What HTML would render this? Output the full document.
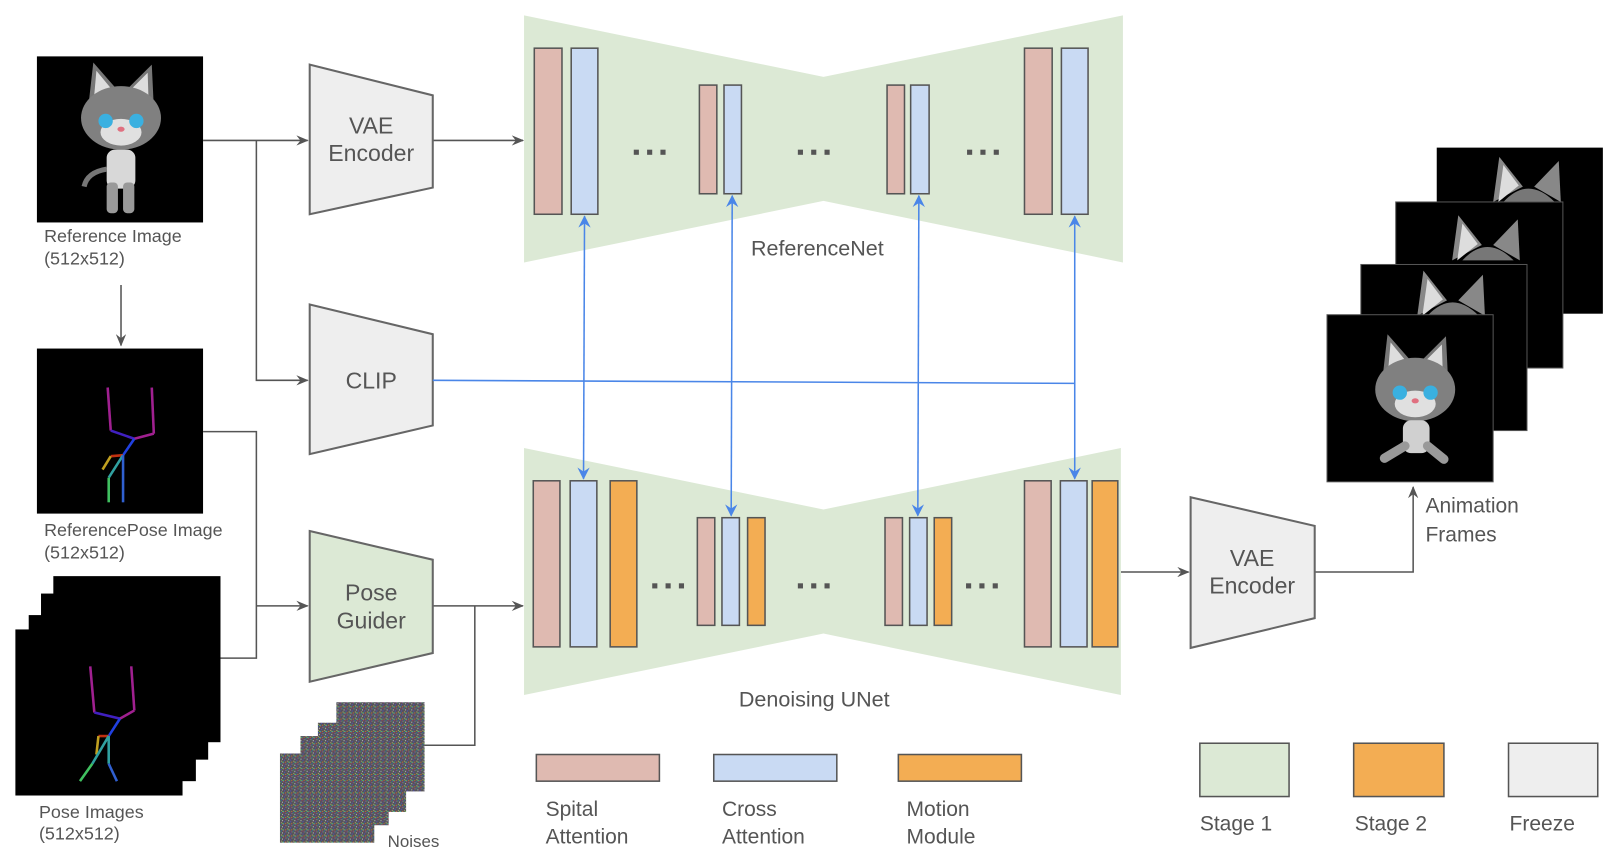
<!DOCTYPE html>
<html><head><meta charset="utf-8"><style>
html,body{margin:0;padding:0;background:#fff;}
svg{display:block;}
text{font-family:"Liberation Sans",sans-serif;fill:#555;}
</style></head><body>
<svg width="1608" height="856" viewBox="0 0 1568 835" preserveAspectRatio="none" xmlns="http://www.w3.org/2000/svg">
<defs>
<marker id="ag" markerWidth="12" markerHeight="10" refX="11" refY="5" orient="auto" markerUnits="userSpaceOnUse"><path d="M0,0 L12,5 L0,10 L4,5 z" fill="#555"/></marker>
<marker id="ab" markerWidth="12" markerHeight="12" refX="11" refY="6" orient="auto-start-reverse" markerUnits="userSpaceOnUse"><path d="M0,0 L12,6 L0,12 L4,6 z" fill="#4a86e8"/></marker>
<pattern id="nz" width="6" height="6" patternUnits="userSpaceOnUse">
<rect width="6" height="6" fill="#55525a"/>
<rect x="0" y="0" width="1" height="1" fill="#c04050"/><rect x="3" y="1" width="1" height="1" fill="#40b050"/>
<rect x="1" y="3" width="1" height="1" fill="#5050d0"/><rect x="4" y="4" width="1" height="1" fill="#b0b070"/>
<rect x="0" y="5" width="1" height="1" fill="#30a0b0"/><rect x="5" y="2" width="1" height="1" fill="#c0c0c8"/>
<rect x="2" y="1" width="1" height="1" fill="#a040a0"/><rect x="5" y="5" width="1" height="1" fill="#70c040"/>
<rect x="2" y="5" width="1" height="1" fill="#d07030"/><rect x="4" y="0" width="1" height="1" fill="#3060c0"/>
</pattern>
<g id="catface">
<path d="M-32,-10 L-27,-54 L-6,-30 Z" fill="#777"/><path d="M-27,-12 L-24,-46 L-10,-29 Z" fill="#ddd"/>
<path d="M32,-10 L30,-52 L8,-30 Z" fill="#777"/><path d="M27,-12 L26,-44 L11,-29 Z" fill="#ddd"/>
<ellipse cx="0" cy="0" rx="39" ry="31" fill="#808080"/>
<ellipse cx="0" cy="14" rx="20" ry="13" fill="#e0e0e0"/>
<circle cx="-15" cy="3" r="7" fill="#3ab0e0"/><circle cx="15" cy="3" r="7" fill="#3ab0e0"/>
<ellipse cx="0" cy="11" rx="3.5" ry="2.5" fill="#e07080"/>
</g>
</defs>

<!-- Reference image -->
<rect x="36" y="55" width="162" height="162" fill="#000"/>
<use href="#catface" transform="translate(118,115)"/>
<rect x="104" y="146" width="28" height="38" rx="8" fill="#d8d8d8"/>
<rect x="104" y="178" width="11" height="30" rx="4" fill="#999"/><rect x="120" y="178" width="11" height="30" rx="4" fill="#999"/>
<path d="M104,165 Q85,168 82,182" stroke="#777" stroke-width="5" fill="none"/>
<text x="43" y="236" font-size="17.5">Reference Image</text>
<text x="43" y="258" font-size="17.5">(512x512)</text>
<line x1="118" y1="278" x2="118" y2="337" stroke="#555" stroke-width="1.5" marker-end="url(#ag)"/>

<!-- Reference pose -->
<rect x="36" y="340" width="162" height="161" fill="#000"/>
<g stroke-width="2.5" fill="none">
<line x1="105" y1="378" x2="108" y2="420" stroke="#a02090"/>
<line x1="148" y1="378" x2="150" y2="423" stroke="#a02090"/>
<line x1="108" y1="420" x2="131" y2="428" stroke="#4020c0"/>
<line x1="131" y1="428" x2="150" y2="423" stroke="#a02090"/>
<line x1="131" y1="428" x2="120" y2="444" stroke="#2040e0"/>
<line x1="120" y1="444" x2="108" y2="445" stroke="#c03010"/>
<line x1="108" y1="445" x2="100" y2="458" stroke="#c0a020"/>
<line x1="120" y1="444" x2="106" y2="466" stroke="#30a0a0"/>
<line x1="106" y1="466" x2="106" y2="490" stroke="#40c060"/>
<line x1="120" y1="444" x2="120" y2="490" stroke="#3060d0"/>
</g>
<text x="43" y="523" font-size="17.5">ReferencePose Image</text>
<text x="43" y="545" font-size="17.5">(512x512)</text>

<!-- Pose images stack -->
<rect x="52" y="562" width="163" height="162" fill="#000"/>
<rect x="40" y="579" width="163" height="162" fill="#000"/>
<rect x="28" y="600" width="163" height="162" fill="#000"/>
<rect x="15" y="614" width="163" height="162" fill="#000"/>
<g stroke-width="2.5" fill="none">
<line x1="88" y1="650" x2="92" y2="695" stroke="#a02090"/>
<line x1="128" y1="650" x2="131" y2="693" stroke="#a02090"/>
<line x1="92" y1="695" x2="117" y2="701" stroke="#4020c0"/>
<line x1="117" y1="701" x2="131" y2="693" stroke="#a02090"/>
<line x1="117" y1="701" x2="106" y2="718" stroke="#2040e0"/>
<line x1="106" y1="718" x2="96" y2="718" stroke="#c03010"/>
<line x1="96" y1="718" x2="94" y2="736" stroke="#c0a020"/>
<line x1="106" y1="718" x2="90" y2="745" stroke="#30a0a0"/>
<line x1="90" y1="745" x2="78" y2="762" stroke="#40c060"/>
<line x1="106" y1="718" x2="106" y2="745" stroke="#30a0a0"/>
<line x1="106" y1="745" x2="114" y2="762" stroke="#3060d0"/>
</g>
<text x="38" y="798" font-size="17.5">Pose Images</text>
<text x="38" y="819" font-size="17.5">(512x512)</text>

<!-- connectors left -->
<g stroke="#555" stroke-width="1.5" fill="none">
<line x1="198" y1="137" x2="300" y2="137" marker-end="url(#ag)"/>
<polyline points="250,137 250,371 300,371" marker-end="url(#ag)"/>
<polyline points="198,421 250,421 250,642 215,642"/>
<line x1="250" y1="591" x2="300" y2="591" marker-end="url(#ag)"/>
<line x1="422" y1="137" x2="510" y2="137" marker-end="url(#ag)"/>
<line x1="422" y1="591" x2="510" y2="591" marker-end="url(#ag)"/>
<polyline points="414,727 463,727 463,591"/>
<line x1="1093" y1="558" x2="1159" y2="558" marker-end="url(#ag)"/>
<polyline points="1282,558 1378,558 1378,475" marker-end="url(#ag)"/>
</g>

<!-- encoders -->
<polygon points="302,63 422,93 422,183 302,209" fill="#eeeeee" stroke="#666" stroke-width="2"/>
<text x="362" y="130" font-size="22.5" text-anchor="middle">VAE</text>
<text x="362" y="157" font-size="22.5" text-anchor="middle">Encoder</text>
<polygon points="302,297 422,326 422,415 302,443" fill="#eeeeee" stroke="#666" stroke-width="2"/>
<text x="362" y="379" font-size="22.5" text-anchor="middle">CLIP</text>
<polygon points="302,518 422,546 422,637 302,665" fill="#dce9d5" stroke="#666" stroke-width="2"/>
<text x="362" y="586" font-size="22.5" text-anchor="middle">Pose</text>
<text x="362" y="613" font-size="22.5" text-anchor="middle">Guider</text>
<polygon points="1161,485 1282,513 1282,603 1161,632" fill="#eeeeee" stroke="#666" stroke-width="2"/>
<text x="1221" y="552" font-size="22.5" text-anchor="middle">VAE</text>
<text x="1221" y="579" font-size="22.5" text-anchor="middle">Encoder</text>

<!-- noises -->
<g stroke="none">
<rect x="328" y="685" width="86" height="87" fill="url(#nz)"/>
<rect x="310" y="705" width="86" height="87" fill="url(#nz)"/>
<rect x="293" y="718" width="86" height="87" fill="url(#nz)"/>
<rect x="273" y="735" width="92" height="87" fill="url(#nz)"/>
</g>
<text x="378" y="826" font-size="16.5">Noises</text>

<!-- ReferenceNet -->
<polygon points="511,15 803,75 1095,15 1095,256 803,196 511,256" fill="#dce9d5"/>
<g stroke="#555" stroke-width="1.5">
<rect x="521" y="47" width="27" height="162" fill="#dfbab1"/>
<rect x="557" y="47" width="26" height="162" fill="#c9daf3"/>
<rect x="682" y="83" width="17" height="106" fill="#dfbab1"/>
<rect x="706" y="83" width="17" height="106" fill="#c9daf3"/>
<rect x="865" y="83" width="17" height="106" fill="#dfbab1"/>
<rect x="888" y="83" width="18" height="106" fill="#c9daf3"/>
<rect x="999" y="47" width="27" height="162" fill="#dfbab1"/>
<rect x="1035" y="47" width="26" height="162" fill="#c9daf3"/>
</g>
<text x="797" y="249" font-size="21" text-anchor="middle">ReferenceNet</text>

<!-- Denoising UNet -->
<polygon points="511,437 803,497 1093,437 1093,678 803,618 511,678" fill="#dce9d5"/>
<g stroke="#555" stroke-width="1.5">
<rect x="520" y="469" width="26" height="162" fill="#dfbab1"/>
<rect x="556" y="469" width="26" height="162" fill="#c9daf3"/>
<rect x="595" y="469" width="26" height="162" fill="#f3ad53"/>
<rect x="680" y="505" width="17" height="105" fill="#dfbab1"/>
<rect x="704" y="505" width="17" height="105" fill="#c9daf3"/>
<rect x="729" y="505" width="17" height="105" fill="#f3ad53"/>
<rect x="863" y="505" width="17" height="105" fill="#dfbab1"/>
<rect x="887" y="505" width="17" height="105" fill="#c9daf3"/>
<rect x="911" y="505" width="17" height="105" fill="#f3ad53"/>
<rect x="999" y="469" width="26" height="162" fill="#dfbab1"/>
<rect x="1034" y="469" width="26" height="162" fill="#c9daf3"/>
<rect x="1065" y="469" width="25" height="162" fill="#f3ad53"/>
</g>
<text x="794" y="689" font-size="21" text-anchor="middle">Denoising UNet</text>

<!-- dots -->
<g fill="#555">
<rect x="618" y="146" width="5" height="5"/><rect x="631" y="146" width="5" height="5"/><rect x="644" y="146" width="5" height="5"/>
<rect x="778" y="146" width="5" height="5"/><rect x="791" y="146" width="5" height="5"/><rect x="804" y="146" width="5" height="5"/>
<rect x="943" y="146" width="5" height="5"/><rect x="956" y="146" width="5" height="5"/><rect x="969" y="146" width="5" height="5"/>
<rect x="636" y="569" width="5" height="5"/><rect x="649" y="569" width="5" height="5"/><rect x="662" y="569" width="5" height="5"/>
<rect x="778" y="569" width="5" height="5"/><rect x="791" y="569" width="5" height="5"/><rect x="804" y="569" width="5" height="5"/>
<rect x="942" y="569" width="5" height="5"/><rect x="955" y="569" width="5" height="5"/><rect x="968" y="569" width="5" height="5"/>
</g>

<!-- blue connectors -->
<g stroke="#4a86e8" stroke-width="1.5" fill="none">
<line x1="422" y1="371" x2="1048" y2="374"/>
<line x1="570" y1="211" x2="569" y2="467" marker-start="url(#ab)" marker-end="url(#ab)"/>
<line x1="714" y1="191" x2="713" y2="503" marker-start="url(#ab)" marker-end="url(#ab)"/>
<line x1="896" y1="191" x2="895" y2="503" marker-start="url(#ab)" marker-end="url(#ab)"/>
<line x1="1048" y1="211" x2="1048" y2="467" marker-start="url(#ab)" marker-end="url(#ab)"/>
</g>

<!-- Animation frames -->
<rect x="1401" y="144" width="162" height="162" fill="#000"/>
<g transform="translate(1490,197)"><path d="M-34,0 L-28,-44 L-5,-15 Z" fill="#888"/><path d="M-29,0 L-24,-36 L-9,-16 Z" fill="#ddd"/><path d="M32,0 L30,-40 L6,-15 Z" fill="#888"/><path d="M-24,0 Q0,-26 26,0 Z" fill="#777"/></g>
<rect x="1361" y="197" width="163" height="162" fill="#000" stroke="#555" stroke-width="1"/>
<g transform="translate(1450,254)"><path d="M-34,0 L-28,-44 L-5,-15 Z" fill="#888"/><path d="M-29,0 L-24,-36 L-9,-16 Z" fill="#ddd"/><path d="M32,0 L30,-40 L6,-15 Z" fill="#888"/><path d="M-24,0 Q0,-26 26,0 Z" fill="#777"/></g>
<rect x="1327" y="258" width="162" height="162" fill="#000" stroke="#555" stroke-width="1"/>
<g transform="translate(1416,308)"><path d="M-34,0 L-28,-44 L-5,-15 Z" fill="#888"/><path d="M-29,0 L-24,-36 L-9,-16 Z" fill="#ddd"/><path d="M32,0 L30,-40 L6,-15 Z" fill="#888"/><path d="M-24,0 Q0,-26 26,0 Z" fill="#777"/></g>
<rect x="1294" y="307" width="162" height="163" fill="#000" stroke="#555" stroke-width="1"/>
<use href="#catface" transform="translate(1380,380)"/>
<rect x="1368" y="410" width="26" height="32" rx="8" fill="#d0d0d0"/>
<path d="M1370,435 L1350,447" stroke="#999" stroke-width="9" stroke-linecap="round"/>
<path d="M1392,435 L1408,448" stroke="#999" stroke-width="9" stroke-linecap="round"/>
<text x="1390" y="500" font-size="20.5">Animation</text>
<text x="1390" y="528" font-size="20.5">Frames</text>

<!-- legend -->
<g stroke="#555" stroke-width="1.5">
<rect x="523" y="736" width="120" height="26" fill="#dfbab1"/>
<rect x="696" y="736" width="120" height="26" fill="#c9daf3"/>
<rect x="876" y="736" width="120" height="26" fill="#f3ad53"/>
<rect x="1170" y="725" width="87" height="52" fill="#dce9d5"/>
<rect x="1320" y="725" width="88" height="52" fill="#f3ad53"/>
<rect x="1471" y="725" width="87" height="52" fill="#eeeeee"/>
</g>
<g font-size="20.5">
<text x="532" y="796">Spital</text><text x="532" y="823">Attention</text>
<text x="704" y="796">Cross</text><text x="704" y="823">Attention</text>
<text x="884" y="796">Motion</text><text x="884" y="823">Module</text>
<text x="1170" y="810">Stage 1</text>
<text x="1321" y="810">Stage 2</text>
<text x="1472" y="810">Freeze</text>
</g>
</svg>
</body></html>
